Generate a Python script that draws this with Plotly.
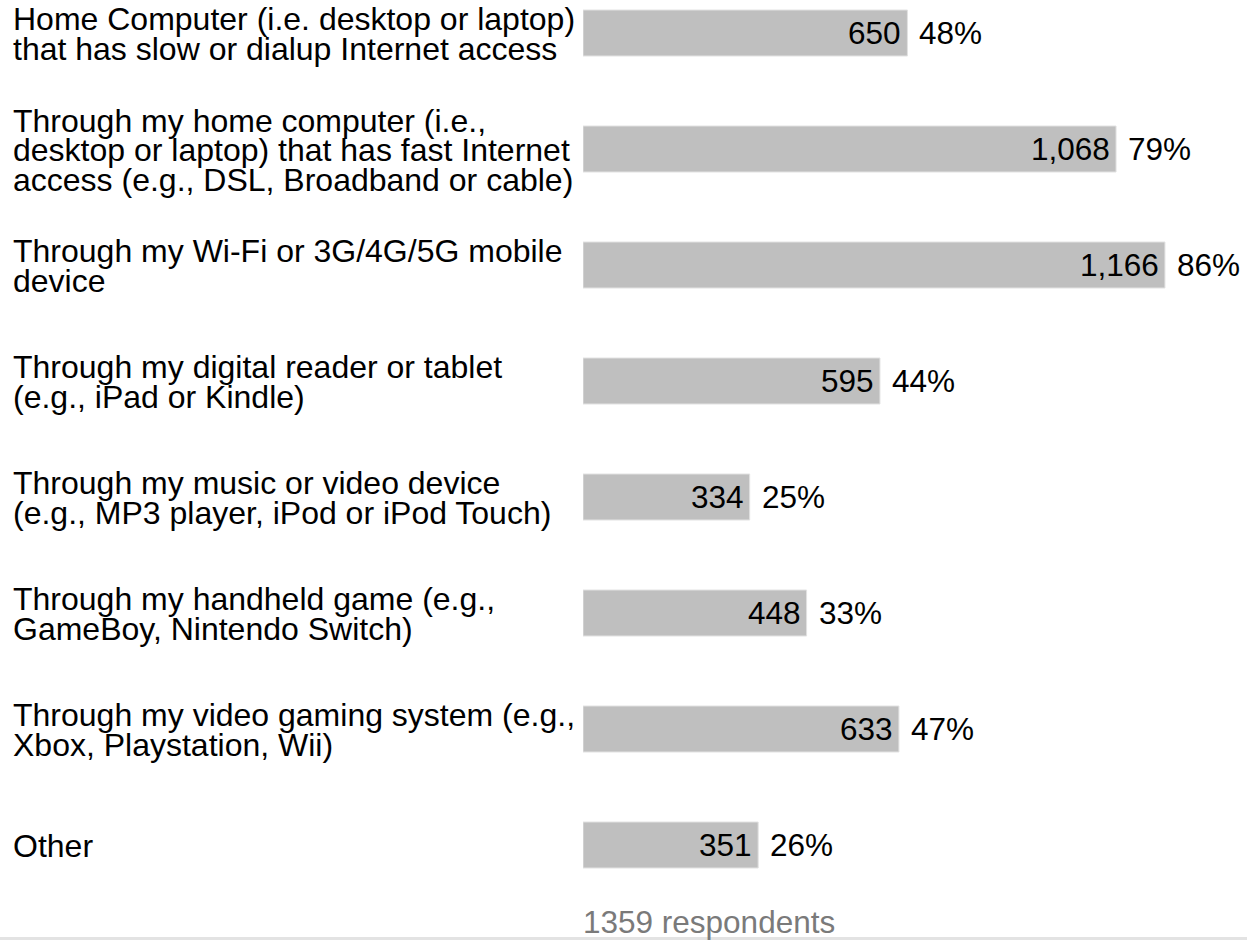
import plotly.graph_objects as go

# ---- data ----
categories = [
    "Home Computer (i.e. desktop or laptop)<br>that has slow or dialup Internet access",
    "Through my home computer (i.e.,<br>desktop or laptop) that has fast Internet<br>access (e.g., DSL, Broadband or cable)",
    "Through my Wi-Fi or 3G/4G/5G mobile<br>device",
    "Through my digital reader or tablet<br>(e.g., iPad or Kindle)",
    "Through my music or video device<br>(e.g., MP3 player, iPod or iPod Touch)",
    "Through my handheld game (e.g.,<br>GameBoy, Nintendo Switch)",
    "Through my video gaming system (e.g.,<br>Xbox, Playstation, Wii)",
    "Other",
]
counts = [650, 1068, 1166, 595, 334, 448, 633, 351]
percents = [48, 79, 86, 44, 25, 33, 47, 26]
respondents = 1359
footer_text = f"{respondents} respondents"

# ---- layout constants (pixels) ----
W, H = 1247, 940
PLOT_LEFT = 583
ROW = 116
FIRST_CENTER = 33
BAR_H = 46
LABEL_X = 11
LINE_SP = 29.5
FONT = "Liberation Sans, Arial, sans-serif"
FS_LABEL = 32
FS_VALUE = 31.5

plot_w = W - PLOT_LEFT
x_max = plot_w / 0.4991
y_top = -FIRST_CENTER / ROW
y_bot = y_top + H / ROW

def px_x(p):
    return (p - PLOT_LEFT) / plot_w

def px_y(p):
    return 1 - p / H

idx = list(range(len(categories)))

fig = go.Figure()
fig.add_trace(go.Bar(
    x=counts, y=idx, orientation="h",
    width=BAR_H / ROW,
    marker=dict(color="#bfbfbf", line=dict(color="#e2e2e2", width=1)),
    hoverinfo="skip",
))

annotations = []
for i, cat in enumerate(categories):
    lines = cat.split("<br>")
    n = len(lines)
    for j, ln in enumerate(lines):
        annotations.append(dict(
            xref="paper", yref="y", x=px_x(LABEL_X), y=i,
            xanchor="left", yanchor="middle",
            yshift=((n - 1) / 2 - j) * LINE_SP - 1,
            text=ln, showarrow=False,
            font=dict(family=FONT, size=FS_LABEL, color="#000"),
        ))
    annotations.append(dict(
        xref="x", yref="y", x=counts[i], y=i,
        xanchor="right", yanchor="middle", xshift=-4,
        text=f"{counts[i]:,}", showarrow=False,
        font=dict(family=FONT, size=FS_VALUE, color="#000"),
    ))
    annotations.append(dict(
        xref="x", yref="y", x=counts[i], y=i,
        xanchor="left", yanchor="middle", xshift=10,
        text=f"{percents[i]}%", showarrow=False,
        font=dict(family=FONT, size=FS_VALUE, color="#000"),
    ))

annotations.append(dict(
    xref="paper", yref="paper", x=0, y=px_y(922),
    xanchor="left", yanchor="middle", xshift=-2,
    text=footer_text, showarrow=False,
    font=dict(family=FONT, size=FS_VALUE, color="#7a7a7a"),
))

fig.update_layout(
    width=W, height=H,
    margin=dict(l=PLOT_LEFT, r=0, t=0, b=0),
    paper_bgcolor="white", plot_bgcolor="white",
    showlegend=False,
    xaxis=dict(range=[0, x_max], visible=False, fixedrange=True),
    yaxis=dict(range=[y_bot, y_top], visible=False, fixedrange=True),
    annotations=annotations,
    shapes=[dict(
        type="line", xref="paper", yref="paper",
        x0=px_x(0), x1=1, y0=px_y(938.5), y1=px_y(938.5),
        line=dict(color="#e3e3e3", width=3),
    )],
)

fig.write_html(
    "out.html",
    config={"displayModeBar": False},
    post_script="document.body.style.margin='0';document.body.style.overflow='hidden';",
)
